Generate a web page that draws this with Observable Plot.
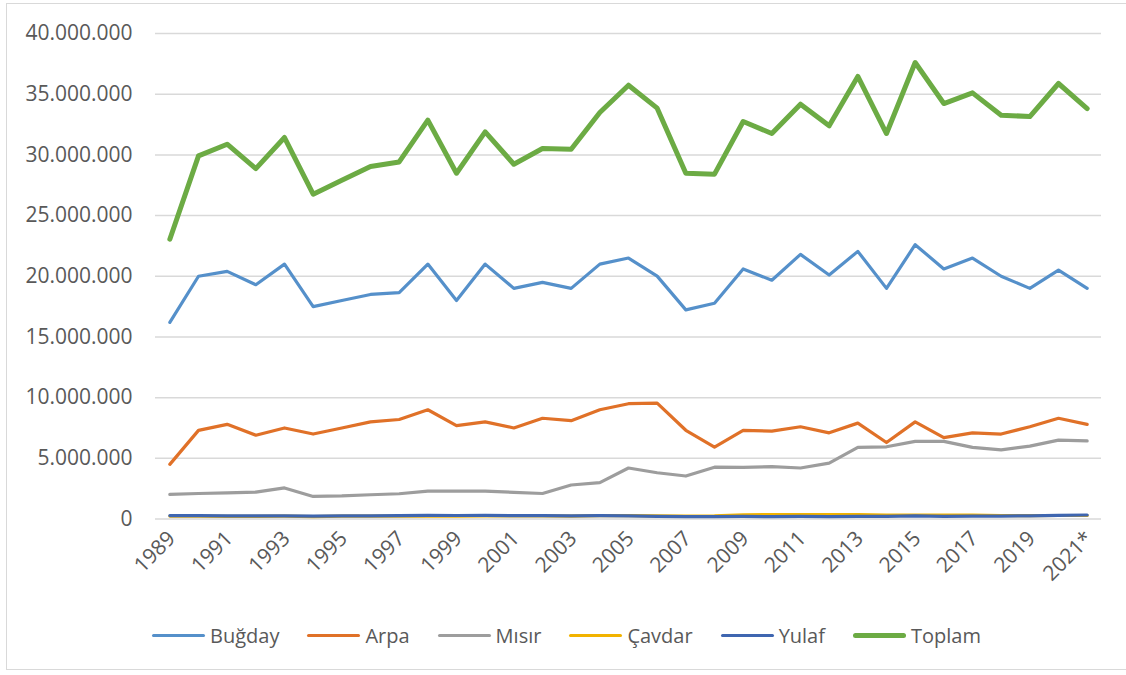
<!DOCTYPE html>
<html>
<head>
<meta charset="utf-8">
<script src="https://cdn.jsdelivr.net/npm/d3@7"></script>
<script src="https://cdn.jsdelivr.net/npm/@observablehq/plot@0.6"></script>
<style>
  html, body { margin: 0; padding: 0; background: #fff; overflow: hidden; }
  #wrap { position: relative; width: 1126px; height: 675px; font-family: "Open Sans", sans-serif; }
  #frame { position: absolute; left: 6px; top: 3px; width: 1200px; height: 667px; border: 1.5px solid #d9d9d9; box-sizing: border-box; }
  #chart { position: absolute; left: 0; top: 0; }
  #legend { position: absolute; left: 152px; top: 622px; display: flex; align-items: center; font-size: 20px; color: #595959; white-space: nowrap; }
  .item { display: flex; align-items: center; margin-right: 28px; }
  .sw { width: 53px; border-radius: 3px; margin-right: 5px; }
</style>
</head>
<body>
<div id="wrap">
  <div id="frame"></div>
  <div id="chart"></div>
  <div id="legend"></div>
</div>
<script>
const years = ["1989","1990","1991","1992","1993","1994","1995","1996","1997","1998","1999","2000","2001","2002","2003","2004","2005","2006","2007","2008","2009","2010","2011","2012","2013","2014","2015","2016","2017","2018","2019","2020","2021*"];

const bugday = [16200000,20000000,20400000,19300000,21000000,17500000,18000000,18500000,18650000,21000000,18000000,21000000,19000000,19500000,19000000,21000000,21500000,20010000,17230000,17780000,20600000,19670000,21800000,20100000,22050000,19000000,22600000,20600000,21500000,20000000,19000000,20500000,19000000];
const arpa = [4500000,7300000,7800000,6900000,7500000,7000000,7500000,8000000,8200000,9000000,7700000,8000000,7500000,8300000,8100000,9000000,9500000,9550000,7310000,5920000,7300000,7240000,7600000,7100000,7900000,6300000,8000000,6700000,7100000,7000000,7600000,8300000,7800000];
const misir = [2030000,2100000,2160000,2220000,2560000,1860000,1900000,2000000,2080000,2300000,2300000,2300000,2200000,2100000,2800000,3000000,4200000,3810000,3540000,4270000,4250000,4310000,4200000,4600000,5900000,5950000,6400000,6400000,5900000,5700000,6000000,6500000,6430000];
const cavdar = [240000,230000,220000,220000,230000,200000,230000,230000,240000,240000,230000,250000,250000,250000,230000,270000,270000,250000,240000,250000,350000,370000,370000,370000,370000,330000,320000,320000,320000,290000,280000,290000,290000];
const yulaf = [280000,270000,260000,250000,260000,230000,250000,260000,270000,300000,290000,300000,270000,270000,260000,270000,260000,220000,190000,200000,210000,200000,210000,200000,210000,210000,250000,220000,230000,240000,260000,300000,330000];
const toplam = [23050000,29920000,30880000,28870000,31430000,26760000,27910000,29040000,29420000,32860000,28490000,31900000,29230000,30520000,30470000,33490000,35740000,33850000,28490000,28410000,32750000,31760000,34180000,32390000,36460000,31760000,37610000,34230000,35110000,33270000,33160000,35880000,33820000];

const seriesNames = ["Buğday","Arpa","Mısır","Çavdar","Yulaf","Toplam"];
const seriesValues = [bugday, arpa, misir, cavdar, yulaf, toplam];
const seriesColors = ["#5590ca","#e07128","#9d9d9d","#f2b300","#3f66b0","#6cab44"];
const seriesWidths = [3.2,3.2,3.2,3.2,3.2,5];

const yTicks = [0,5000000,10000000,15000000,20000000,25000000,30000000,35000000,40000000];
const xTicks = years.filter((d,i) => i % 2 === 0);

const rows = [];
seriesNames.forEach((s, si) => {
  seriesValues[si].forEach((v, i) => rows.push({series: s, year: years[i], value: v}));
});

const fmt = d => d3.format(",")(d).replace(/,/g, ".");

const marks = [
  Plot.gridY(yTicks, {stroke: "#d9d9d9", strokeOpacity: 1, strokeWidth: 1.5}),
  Plot.axisY(yTicks, {tickSize: 0, tickPadding: 23, tickFormat: fmt, fontSize: 21, fill: "#595959", label: null}),
  Plot.axisX(xTicks, {tickSize: 0, tickPadding: 16, tickRotate: -45, fontSize: 21, fill: "#595959", label: null, dx: 2})
];
seriesNames.forEach((s, si) => {
  marks.push(Plot.line(rows.filter(r => r.series === s), {
    x: "year", y: "value",
    stroke: seriesColors[si], strokeWidth: seriesWidths[si],
    strokeLinejoin: "round", strokeLinecap: "round"
  }));
});

const chart = Plot.plot({
  width: 1126,
  height: 600,
  marginLeft: 155,
  marginRight: 25,
  marginTop: 33,
  marginBottom: 81.5,
  style: {fontFamily: "'Open Sans', sans-serif", background: "transparent", overflow: "visible"},
  x: {type: "point", domain: years, padding: 0.5, round: false},
  y: {domain: [0, 40000000]},
  marks
});
document.getElementById("chart").appendChild(chart);

const legend = document.getElementById("legend");
seriesNames.forEach((s, si) => {
  const it = document.createElement("div");
  it.className = "item";
  const sw = document.createElement("span");
  sw.className = "sw";
  sw.style.background = seriesColors[si];
  sw.style.height = (si === 5 ? 5 : 3.4) + "px";
  const tx = document.createElement("span");
  tx.textContent = s;
  it.appendChild(sw);
  it.appendChild(tx);
  legend.appendChild(it);
});
</script>
</body>
</html>
